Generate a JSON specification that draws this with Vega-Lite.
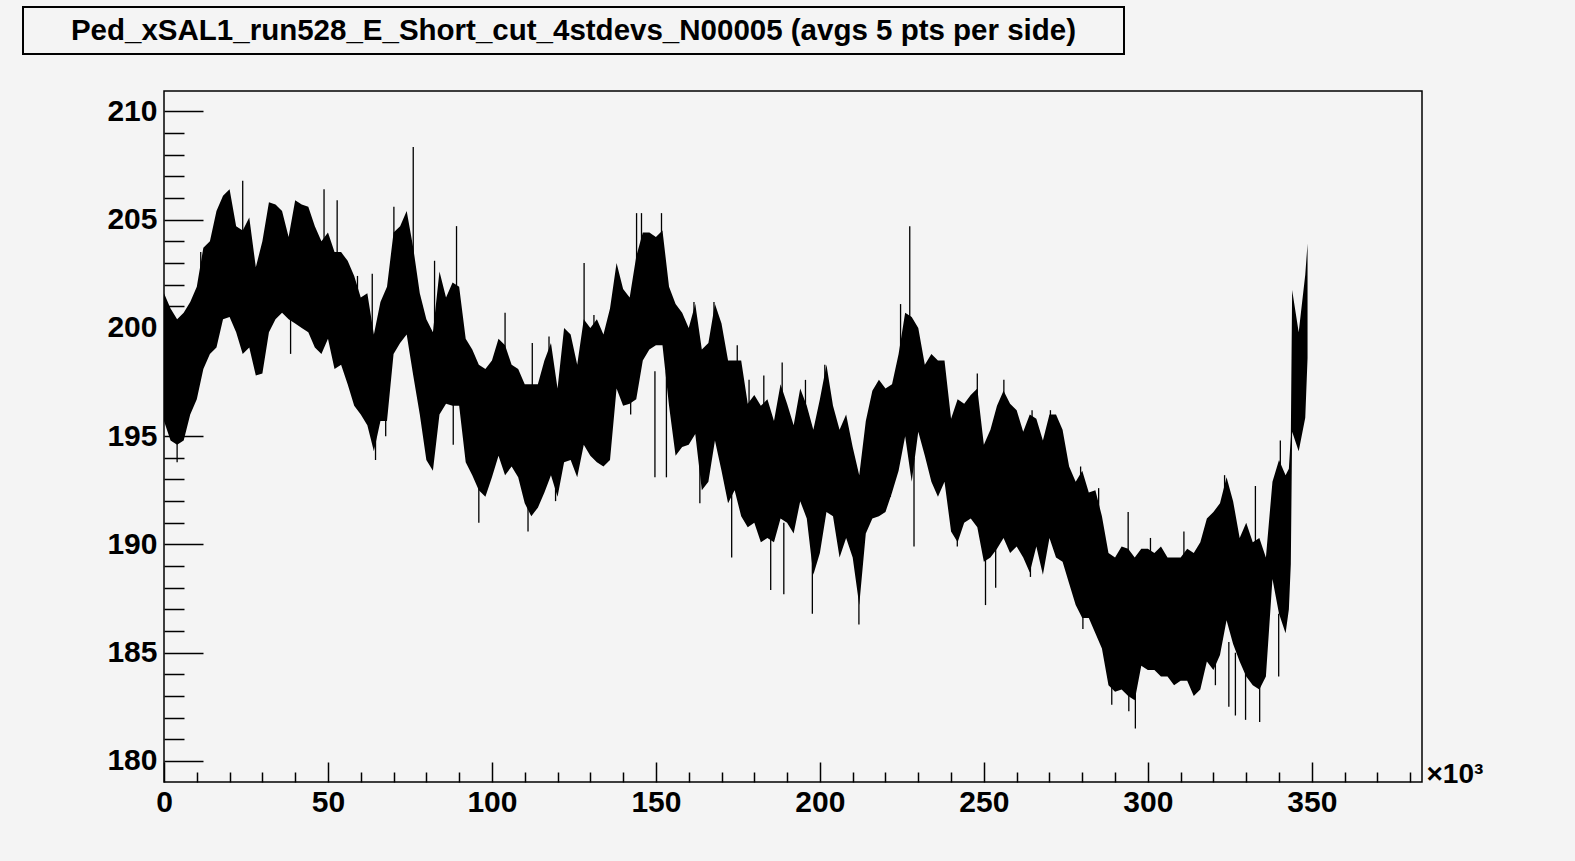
{
  "$schema": "https://vega.github.io/schema/vega-lite/v6.json",
  "background": "#f4f4f4",
  "padding": {"left": 22, "top": 6, "right": 92, "bottom": 49},
  "autosize": {"type": "pad"},
  "spacing": 35,
  "config": {
    "font": "Liberation Sans",
    "view": {"stroke": "black", "strokeWidth": 1.5, "fill": "#f4f4f4"},
    "axis": {"labelOverlap": false}
  },
  "datasets": {
    "titles": [{"title": "Ped_xSAL1_run528_E_Short_cut_4stdevs_N00005 (avgs 5 pts per side)"}],
    "empty": [],
    "band": [
      {"x": 0, "hi": 201.6, "lo": 195.7}, {"x": 2, "hi": 200.9, "lo": 194.8}, {"x": 4, "hi": 200.4, "lo": 194.6}, {"x": 6, "hi": 200.7, "lo": 194.8},
      {"x": 8, "hi": 201.2, "lo": 196.0}, {"x": 10, "hi": 201.9, "lo": 196.7}, {"x": 12, "hi": 203.7, "lo": 198.1}, {"x": 14, "hi": 204.0, "lo": 198.8},
      {"x": 16, "hi": 205.4, "lo": 199.1}, {"x": 18, "hi": 206.1, "lo": 200.4}, {"x": 20, "hi": 206.4, "lo": 200.5}, {"x": 22, "hi": 204.7, "lo": 199.8},
      {"x": 24, "hi": 204.5, "lo": 198.8}, {"x": 26, "hi": 205.1, "lo": 199.1}, {"x": 28, "hi": 202.8, "lo": 197.8}, {"x": 30, "hi": 204.0, "lo": 197.9},
      {"x": 32, "hi": 205.8, "lo": 199.8}, {"x": 34, "hi": 205.7, "lo": 200.4}, {"x": 36, "hi": 205.4, "lo": 200.7}, {"x": 38, "hi": 204.2, "lo": 200.4},
      {"x": 40, "hi": 205.9, "lo": 200.2}, {"x": 42, "hi": 205.7, "lo": 200.0}, {"x": 44, "hi": 205.6, "lo": 199.8}, {"x": 46, "hi": 204.7, "lo": 199.1},
      {"x": 48, "hi": 204.0, "lo": 198.8}, {"x": 50, "hi": 204.4, "lo": 199.5}, {"x": 52, "hi": 203.5, "lo": 198.1}, {"x": 54, "hi": 203.5, "lo": 198.3},
      {"x": 56, "hi": 203.1, "lo": 197.4}, {"x": 58, "hi": 202.4, "lo": 196.4}, {"x": 60, "hi": 201.4, "lo": 196.0}, {"x": 62, "hi": 201.6, "lo": 195.5},
      {"x": 64, "hi": 199.7, "lo": 194.3}, {"x": 66, "hi": 201.2, "lo": 195.7}, {"x": 68, "hi": 201.9, "lo": 195.7}, {"x": 70, "hi": 204.4, "lo": 198.8},
      {"x": 72, "hi": 204.7, "lo": 199.3}, {"x": 74, "hi": 205.4, "lo": 199.7}, {"x": 76, "hi": 203.7, "lo": 197.8}, {"x": 78, "hi": 201.6, "lo": 196.0},
      {"x": 80, "hi": 200.4, "lo": 193.9}, {"x": 82, "hi": 199.8, "lo": 193.4}, {"x": 84, "hi": 202.6, "lo": 196.0}, {"x": 86, "hi": 201.4, "lo": 196.5},
      {"x": 88, "hi": 202.1, "lo": 196.4}, {"x": 90, "hi": 201.9, "lo": 196.4}, {"x": 92, "hi": 199.5, "lo": 193.8}, {"x": 94, "hi": 199.0, "lo": 193.2},
      {"x": 96, "hi": 198.3, "lo": 192.5}, {"x": 98, "hi": 198.1, "lo": 192.2}, {"x": 100, "hi": 198.5, "lo": 193.1}, {"x": 102, "hi": 199.5, "lo": 194.1},
      {"x": 104, "hi": 199.2, "lo": 193.2}, {"x": 106, "hi": 198.3, "lo": 193.6}, {"x": 108, "hi": 198.1, "lo": 193.1}, {"x": 110, "hi": 197.4, "lo": 191.9},
      {"x": 112, "hi": 197.4, "lo": 191.3}, {"x": 114, "hi": 197.4, "lo": 191.7}, {"x": 116, "hi": 198.5, "lo": 192.4}, {"x": 118, "hi": 199.3, "lo": 193.2},
      {"x": 120, "hi": 197.2, "lo": 192.2}, {"x": 122, "hi": 200.0, "lo": 193.8}, {"x": 124, "hi": 199.7, "lo": 193.9}, {"x": 126, "hi": 198.3, "lo": 193.1},
      {"x": 128, "hi": 200.4, "lo": 194.6}, {"x": 130, "hi": 200.0, "lo": 194.1}, {"x": 132, "hi": 200.4, "lo": 193.8}, {"x": 134, "hi": 199.7, "lo": 193.6},
      {"x": 136, "hi": 200.9, "lo": 193.9}, {"x": 138, "hi": 203.0, "lo": 197.2}, {"x": 140, "hi": 201.8, "lo": 196.4}, {"x": 142, "hi": 201.4, "lo": 196.5},
      {"x": 144, "hi": 203.3, "lo": 196.7}, {"x": 146, "hi": 204.4, "lo": 198.5}, {"x": 148, "hi": 204.4, "lo": 199.0}, {"x": 150, "hi": 204.2, "lo": 199.2},
      {"x": 152, "hi": 204.5, "lo": 199.2}, {"x": 154, "hi": 201.9, "lo": 196.4}, {"x": 156, "hi": 201.1, "lo": 194.1}, {"x": 158, "hi": 200.7, "lo": 194.5},
      {"x": 160, "hi": 200.0, "lo": 194.6}, {"x": 162, "hi": 201.1, "lo": 195.1}, {"x": 164, "hi": 199.0, "lo": 192.5}, {"x": 166, "hi": 199.3, "lo": 192.9},
      {"x": 168, "hi": 201.1, "lo": 194.8}, {"x": 170, "hi": 200.2, "lo": 193.4}, {"x": 172, "hi": 198.5, "lo": 191.9}, {"x": 174, "hi": 198.5, "lo": 192.5},
      {"x": 176, "hi": 198.5, "lo": 191.3}, {"x": 178, "hi": 196.5, "lo": 190.8}, {"x": 180, "hi": 196.9, "lo": 191.0}, {"x": 182, "hi": 196.4, "lo": 190.1},
      {"x": 184, "hi": 196.7, "lo": 190.3}, {"x": 186, "hi": 195.7, "lo": 190.1}, {"x": 188, "hi": 197.4, "lo": 191.2}, {"x": 190, "hi": 196.5, "lo": 191.0},
      {"x": 192, "hi": 195.5, "lo": 190.5}, {"x": 194, "hi": 197.2, "lo": 192.0}, {"x": 196, "hi": 196.4, "lo": 191.2}, {"x": 198, "hi": 195.3, "lo": 188.6},
      {"x": 200, "hi": 196.7, "lo": 189.6}, {"x": 202, "hi": 198.3, "lo": 191.5}, {"x": 204, "hi": 196.4, "lo": 191.3}, {"x": 206, "hi": 195.3, "lo": 189.4},
      {"x": 208, "hi": 196.0, "lo": 190.3}, {"x": 210, "hi": 194.5, "lo": 189.4}, {"x": 212, "hi": 193.2, "lo": 187.2}, {"x": 214, "hi": 195.7, "lo": 190.5},
      {"x": 216, "hi": 197.1, "lo": 191.2}, {"x": 218, "hi": 197.6, "lo": 191.3}, {"x": 220, "hi": 197.2, "lo": 191.5}, {"x": 222, "hi": 197.4, "lo": 192.4},
      {"x": 224, "hi": 198.8, "lo": 193.4}, {"x": 226, "hi": 200.7, "lo": 195.0}, {"x": 228, "hi": 200.5, "lo": 192.9}, {"x": 230, "hi": 200.0, "lo": 195.2},
      {"x": 232, "hi": 198.3, "lo": 194.1}, {"x": 234, "hi": 198.8, "lo": 192.9}, {"x": 236, "hi": 198.5, "lo": 192.2}, {"x": 238, "hi": 198.5, "lo": 192.9},
      {"x": 240, "hi": 195.8, "lo": 190.6}, {"x": 242, "hi": 196.7, "lo": 190.1}, {"x": 244, "hi": 196.5, "lo": 191.0}, {"x": 246, "hi": 196.9, "lo": 191.2},
      {"x": 248, "hi": 197.2, "lo": 190.8}, {"x": 250, "hi": 194.6, "lo": 189.2}, {"x": 252, "hi": 195.3, "lo": 189.4}, {"x": 254, "hi": 196.4, "lo": 189.8},
      {"x": 256, "hi": 197.1, "lo": 190.3}, {"x": 258, "hi": 196.5, "lo": 189.6}, {"x": 260, "hi": 196.2, "lo": 189.9}, {"x": 262, "hi": 195.2, "lo": 189.4},
      {"x": 264, "hi": 196.0, "lo": 188.7}, {"x": 266, "hi": 195.8, "lo": 189.9}, {"x": 268, "hi": 194.8, "lo": 188.6}, {"x": 270, "hi": 196.0, "lo": 190.3},
      {"x": 272, "hi": 196.0, "lo": 189.4}, {"x": 274, "hi": 195.3, "lo": 189.2}, {"x": 276, "hi": 193.6, "lo": 188.2}, {"x": 278, "hi": 192.9, "lo": 187.2},
      {"x": 280, "hi": 193.4, "lo": 186.6}, {"x": 282, "hi": 192.4, "lo": 186.6}, {"x": 284, "hi": 192.5, "lo": 185.9}, {"x": 286, "hi": 191.3, "lo": 185.2},
      {"x": 288, "hi": 189.6, "lo": 183.5}, {"x": 290, "hi": 189.4, "lo": 183.2}, {"x": 292, "hi": 189.9, "lo": 183.3}, {"x": 294, "hi": 189.8, "lo": 183.0},
      {"x": 296, "hi": 189.4, "lo": 182.8}, {"x": 298, "hi": 189.8, "lo": 184.4}, {"x": 300, "hi": 189.8, "lo": 184.2}, {"x": 302, "hi": 189.6, "lo": 184.2},
      {"x": 304, "hi": 189.9, "lo": 183.9}, {"x": 306, "hi": 189.4, "lo": 183.9}, {"x": 308, "hi": 189.4, "lo": 183.5}, {"x": 310, "hi": 189.4, "lo": 183.7},
      {"x": 312, "hi": 189.8, "lo": 183.7}, {"x": 314, "hi": 189.6, "lo": 183.0}, {"x": 316, "hi": 190.1, "lo": 183.3}, {"x": 318, "hi": 191.2, "lo": 184.6},
      {"x": 320, "hi": 191.5, "lo": 184.2}, {"x": 322, "hi": 191.9, "lo": 184.9}, {"x": 324, "hi": 193.1, "lo": 186.5}, {"x": 326, "hi": 192.0, "lo": 185.4},
      {"x": 328, "hi": 190.3, "lo": 184.6}, {"x": 330, "hi": 191.0, "lo": 183.9}, {"x": 332, "hi": 190.1, "lo": 183.5}, {"x": 334, "hi": 190.3, "lo": 183.3},
      {"x": 336, "hi": 189.4, "lo": 183.9}, {"x": 338, "hi": 192.9, "lo": 188.4}, {"x": 340, "hi": 193.9, "lo": 186.8}, {"x": 342, "hi": 193.2, "lo": 185.9},
      {"x": 343, "hi": 193.5, "lo": 187.0}, {"x": 343.6, "hi": 195.0, "lo": 189.1}, {"x": 344, "hi": 201.75, "lo": 195.2}, {"x": 346, "hi": 199.8, "lo": 194.3},
      {"x": 348, "hi": 202.45, "lo": 195.85}, {"x": 348.7, "hi": 203.9, "lo": 198.6}
    ],
    "spikes": [
      {"x": 4, "hi": 197, "lo": 193.8}, {"x": 24, "hi": 206.8, "lo": 203}, {"x": 64.5, "hi": 197, "lo": 193.9},
      {"x": 76, "hi": 208.35, "lo": 203}, {"x": 96, "hi": 194, "lo": 191.0}, {"x": 104, "hi": 200.7, "lo": 198},
      {"x": 111, "hi": 193, "lo": 190.6}, {"x": 119.4, "hi": 195, "lo": 192.0}, {"x": 144.1, "hi": 205.3, "lo": 202},
      {"x": 145.6, "hi": 205.3, "lo": 202}, {"x": 151.7, "hi": 205.3, "lo": 202}, {"x": 149.7, "hi": 198, "lo": 193.1},
      {"x": 153.2, "hi": 198, "lo": 193.1}, {"x": 163.4, "hi": 195, "lo": 191.9}, {"x": 173.1, "hi": 193, "lo": 189.4},
      {"x": 178.4, "hi": 197.6, "lo": 195}, {"x": 185, "hi": 191, "lo": 187.9}, {"x": 188.5, "hi": 198.4, "lo": 196},
      {"x": 189, "hi": 191, "lo": 187.7}, {"x": 197.7, "hi": 190, "lo": 186.8}, {"x": 211.9, "hi": 189, "lo": 186.3},
      {"x": 227.4, "hi": 204.7, "lo": 200}, {"x": 228.7, "hi": 194, "lo": 189.9}, {"x": 248, "hi": 197.9, "lo": 196},
      {"x": 250.5, "hi": 190, "lo": 187.2}, {"x": 253.6, "hi": 190, "lo": 188.0}, {"x": 256.1, "hi": 197.6, "lo": 196},
      {"x": 280.2, "hi": 188, "lo": 186.1}, {"x": 289, "hi": 185, "lo": 182.6}, {"x": 294, "hi": 191.5, "lo": 189},
      {"x": 294.2, "hi": 184.5, "lo": 182.3}, {"x": 296.2, "hi": 184, "lo": 181.5}, {"x": 300.8, "hi": 190.3, "lo": 189},
      {"x": 311, "hi": 190.6, "lo": 189}, {"x": 320.6, "hi": 185, "lo": 183.5}, {"x": 324.7, "hi": 185.5, "lo": 182.5},
      {"x": 326.7, "hi": 185, "lo": 182.1}, {"x": 329.8, "hi": 185, "lo": 181.9}, {"x": 332.8, "hi": 192.7, "lo": 190},
      {"x": 334.1, "hi": 184.5, "lo": 181.8}, {"x": 340.4, "hi": 194.8, "lo": 193}, {"x": 339.9, "hi": 186.8, "lo": 183.9},
      {"x": 11.2, "hi": 203.5, "lo": 201}, {"x": 48.8, "hi": 206.4, "lo": 204}, {"x": 52.8, "hi": 205.9, "lo": 203},
      {"x": 38.6, "hi": 200.4, "lo": 198.8}, {"x": 59, "hi": 202.4, "lo": 200}, {"x": 63.5, "hi": 202.5, "lo": 199.5},
      {"x": 70.1, "hi": 205.6, "lo": 203}, {"x": 82.5, "hi": 203.1, "lo": 200}, {"x": 89.2, "hi": 204.7, "lo": 201.5},
      {"x": 112.3, "hi": 199.3, "lo": 197}, {"x": 117.4, "hi": 199.6, "lo": 198}, {"x": 67.6, "hi": 196.5, "lo": 195.0},
      {"x": 88.2, "hi": 196.5, "lo": 194.6}, {"x": 128.1, "hi": 203.0, "lo": 200}, {"x": 131.1, "hi": 200.6, "lo": 199},
      {"x": 161.6, "hi": 201.2, "lo": 199}, {"x": 167.7, "hi": 201.2, "lo": 199}, {"x": 174.8, "hi": 199.2, "lo": 197.5},
      {"x": 142.3, "hi": 197, "lo": 196.0}, {"x": 182.9, "hi": 197.8, "lo": 196}, {"x": 195.6, "hi": 197.6, "lo": 196},
      {"x": 201.5, "hi": 198.3, "lo": 197}, {"x": 224.6, "hi": 201.1, "lo": 199}, {"x": 221.5, "hi": 193, "lo": 192.2},
      {"x": 236.5, "hi": 198.4, "lo": 197}, {"x": 264.7, "hi": 196.2, "lo": 195}, {"x": 270.3, "hi": 196.2, "lo": 195},
      {"x": 279.5, "hi": 193.6, "lo": 192.5}, {"x": 285, "hi": 192.6, "lo": 191.5}, {"x": 241.9, "hi": 191, "lo": 189.9},
      {"x": 264.2, "hi": 189.5, "lo": 188.5}, {"x": 323.4, "hi": 193.2, "lo": 192}
    ]
  },
  "vconcat": [
    {
      "width": 1101,
      "height": 47,
      "view": {"stroke": "black", "strokeWidth": 2, "fill": "#f4f4f4"},
      "data": {"name": "titles"},
      "mark": {"type": "text", "font": "Liberation Sans", "fontWeight": "bold", "fontSize": 29.5, "color": "black", "align": "center", "baseline": "middle"},
      "encoding": {"text": {"field": "title"}}
    },
    {
      "spacing": 0,
      "hconcat": [
        {
          "width": 80,
          "height": 691,
          "view": {"stroke": null, "fill": null},
          "data": {"name": "empty"},
          "mark": "point"
        },
        {
          "width": 1258,
          "height": 691,
          "encoding": {
            "x": {
              "field": "x", "type": "quantitative",
              "scale": {"domain": [0, 383.6], "nice": false, "zero": false},
              "axis": {
                "values": [0,10,20,30,40,50,60,70,80,90,100,110,120,130,140,150,160,170,180,190,200,210,220,230,240,250,260,270,280,290,300,310,320,330,340,350,360,370,380],
                "labelExpr": "datum.value % 50 === 0 ? datum.label : ''",
                "tickSize": {"condition": {"test": "datum.value % 50 === 0", "value": -20}, "value": -10},
                "tickColor": "black", "tickWidth": 1.5,
                "domain": false, "grid": false, "zindex": 1,
                "labelFont": "Liberation Sans", "labelFontWeight": "bold", "labelFontSize": 30, "labelColor": "black",
                "labelPadding": 25, "labelFlush": false, "labelOverlap": false,
                "title": "×10³", "titleFont": "Liberation Sans", "titleFontSize": 28, "titleFontWeight": "bold", "titleColor": "black",
                "titleX": 1262, "titleY": 0, "titleAlign": "left", "titleBaseline": "alphabetic", "titleAnchor": "start"
              }
            },
            "y": {
              "field": "hi", "type": "quantitative",
              "scale": {"domain": [179.03, 210.94], "nice": false, "zero": false},
              "axis": {
                "values": [180,181,182,183,184,185,186,187,188,189,190,191,192,193,194,195,196,197,198,199,200,201,202,203,204,205,206,207,208,209,210],
                "labelExpr": "datum.value % 5 === 0 ? datum.label : ''",
                "tickSize": {"condition": {"test": "datum.value % 5 === 0", "value": -39}, "value": -20},
                "tickColor": "black", "tickWidth": 1.5,
                "domain": false, "grid": false, "zindex": 1,
                "labelFont": "Liberation Sans", "labelFontWeight": "bold", "labelFontSize": 30, "labelColor": "black",
                "labelPadding": 46, "labelFlush": false, "labelOverlap": false,
                "title": null, "minExtent": 60, "maxExtent": 60
              }
            },
            "y2": {"field": "lo"}
          },
          "layer": [
            {
              "data": {"name": "band"},
              "mark": {"type": "area", "color": "black", "opacity": 1, "interpolate": "linear"}
            },
            {
              "data": {"name": "spikes"},
              "mark": {"type": "rule", "color": "black", "strokeWidth": 1.3}
            }
          ]
        }
      ]
    }
  ]
}
